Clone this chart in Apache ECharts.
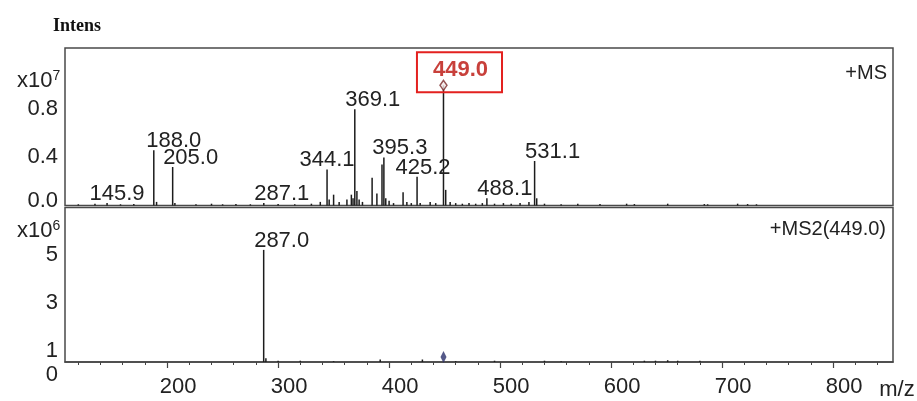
<!DOCTYPE html>
<html>
<head>
<meta charset="utf-8">
<script src="https://cdn.jsdelivr.net/npm/echarts@6.0.0/dist/echarts.min.js"></script>
<style>
html,body{margin:0;padding:0;background:#fff;}
#chart{width:917px;height:401px;}
</style>
</head>
<body>
<div id="chart"></div>
<script>
// ---- data (intensities in units of the axis multipliers: x10^7 top, x10^6 bottom) ----
const msLabeledMz  = [145.9, 188.0, 205.0, 287.1, 344.1, 369.1, 395.3, 425.2, 449.0, 488.1, 531.1];
const msLabeledInt = [0.02, 0.46, 0.32, 0.02, 0.30, 0.80, 0.40, 0.24, 1.00, 0.06, 0.37];
const msNoiseMz  = [120, 135, 158, 170, 190.5, 207, 226, 240, 250, 262, 275, 300, 315, 330, 338, 346, 350, 355, 362, 366, 367.5, 371, 373, 376, 384.7, 389, 393.6, 397, 400, 404, 412.6, 416, 420, 428, 437, 442, 451, 455, 460, 466, 472, 478, 484, 495, 503, 510, 518, 526, 533, 540, 555, 570, 590, 614, 621, 651, 684, 687, 714, 723, 731];
const msNoiseInt = [0.01, 0.015, 0.01, 0.012, 0.03, 0.02, 0.01, 0.015, 0.01, 0.012, 0.01, 0.012, 0.01, 0.015, 0.03, 0.05, 0.09, 0.03, 0.05, 0.09, 0.06, 0.12, 0.05, 0.03, 0.23, 0.10, 0.34, 0.06, 0.04, 0.02, 0.11, 0.03, 0.02, 0.02, 0.03, 0.02, 0.13, 0.03, 0.02, 0.015, 0.02, 0.015, 0.02, 0.015, 0.02, 0.015, 0.02, 0.03, 0.06, 0.015, 0.01, 0.015, 0.012, 0.015, 0.012, 0.015, 0.012, 0.01, 0.015, 0.012, 0.01];
const ms2LabeledMz  = [287.0];
const ms2LabeledInt = [5.2];
const ms2NoiseMz  = [289, 300, 320, 350, 392, 430, 460, 495, 540, 555, 630, 640, 651, 660, 680];
const ms2NoiseInt = [0.7, 0.6, 0.6, 0.58, 0.65, 0.65, 0.58, 0.6, 0.6, 0.58, 0.6, 0.6, 0.62, 0.6, 0.6];
const precursorMz = 449.0;
const xMajorTicks = [200, 300, 400, 500, 600, 700, 800];
const xMinorTicks = [120, 140, 160, 180, 220, 240, 260, 280, 320, 340, 360, 380, 420, 440, 460, 480, 520, 540, 560, 580, 620, 640, 660, 680, 720, 740, 760, 780, 820, 840];
const msYTicks  = [0, 0.4, 0.8];
const ms2YTicks = [1, 3, 5];

// ---- layout / style ----
const FONT = 'Liberation Sans, Arial, sans-serif';
const TXT = '#222';
const X_MIN = 108, X_MAX = 854;
const MS_YMAX = 1.31;
const MS2_YMIN = 0.546, MS2_YMAX = 6.96;
const labelDxMs = [10, 20, 18, 18, 0, 18, 16, 6, 16, 18, 18];
const labelDxMs2 = [18];

function peakData(mzs, ints, labeledMz, labeledInt, dxs, special) {
  const items = [];
  mzs.forEach((m, i) => items.push({ value: [m, ints[i]], label: { show: false } }));
  labeledMz.forEach((m, i) => {
    const lbl = {
      show: true, position: 'top', distance: -2, offset: [dxs[i], 0],
      formatter: m.toFixed(1), fontFamily: FONT, fontSize: 22, color: TXT
    };
    if (special && m === special) {
      Object.assign(lbl, {
        color: '#c8403b', fontWeight: 'bold', borderColor: '#e3211f', borderWidth: 2,
        padding: [7, 14, 11, 16], distance: -7
      });
    }
    items.push({ value: [m, labeledInt[i]], label: lbl });
  });
  return items;
}

const chart = echarts.init(document.getElementById('chart'), null, { renderer: 'canvas' });
const richSup = () => ({
  a: { fontFamily: FONT, fontSize: 22, fontWeight: 'normal', color: TXT, lineHeight: 24 },
  s: { fontFamily: FONT, fontSize: 14, fontWeight: 'normal', color: TXT, lineHeight: 24, verticalAlign: 'top' }
});

chart.setOption({
  backgroundColor: '#ffffff',
  animation: false,
  title: [
    { text: 'Intens', left: 48, top: 12, textStyle: { fontFamily: 'Liberation Serif, Times New Roman, serif', fontWeight: 'bold', fontSize: 18, color: '#111' } },
    { text: '{a|x10}{s|7}', left: 12, top: 64, textStyle: { fontWeight: 'normal', rich: richSup() } },
    { text: '{a|x10}{s|6}', left: 12, top: 214, textStyle: { fontWeight: 'normal', rich: richSup() } },
    { text: '+MS', right: 25, top: 58, textStyle: { fontFamily: FONT, fontWeight: 'normal', fontSize: 20, color: TXT } },
    { text: '+MS2(449.0)', right: 26, top: 214, textStyle: { fontFamily: FONT, fontWeight: 'normal', fontSize: 20, color: TXT } }
  ],
  grid: [
    { left: 65, right: 24, top: 48, height: 157.5, show: true, borderColor: '#4a4a4a', borderWidth: 1.5, backgroundColor: 'transparent' },
    { left: 65, right: 24, top: 207.5, height: 155.5, show: true, borderColor: '#4a4a4a', borderWidth: 1.5, backgroundColor: 'transparent' }
  ],
  xAxis: [
    { gridIndex: 0, type: 'value', min: X_MIN, max: X_MAX, axisLine: { show: false }, axisTick: { show: false }, axisLabel: { show: false }, splitLine: { show: false } },
    { gridIndex: 1, type: 'value', position: 'bottom', min: X_MIN, max: X_MAX,
      axisLine: { show: true, onZero: false, lineStyle: { color: '#444', width: 1.5 } },
      axisTick: { show: true, customValues: xMajorTicks, length: 6, lineStyle: { color: '#444', width: 1.2 } },
      axisLabel: { customValues: xMajorTicks, fontFamily: FONT, fontSize: 22, color: TXT, margin: 14, padding: [0, 0, 0, 22] },
      splitLine: { show: false },
      name: 'm/z', nameLocation: 'end', nameGap: 4,
      nameTextStyle: { fontFamily: FONT, fontSize: 22, color: TXT, align: 'center', verticalAlign: 'top', padding: [17, 0, 0, 0] }
    },
    { gridIndex: 1, type: 'value', position: 'bottom', min: X_MIN, max: X_MAX,
      axisLine: { show: false, onZero: false },
      axisTick: { show: true, customValues: xMinorTicks, length: 3, lineStyle: { color: '#444', width: 1 } },
      axisLabel: { show: false }, splitLine: { show: false }
    }
  ],
  yAxis: [
    { gridIndex: 0, type: 'value', min: 0, max: MS_YMAX,
      axisLine: { show: false }, axisTick: { show: false }, splitLine: { show: false },
      axisLabel: { customValues: msYTicks, margin: 7, fontFamily: FONT, fontSize: 22, color: TXT,
        formatter: v => v === 0 ? '{z|0.0}' : v.toFixed(1),
        rich: { z: { fontFamily: FONT, fontSize: 22, color: TXT, padding: [0, 0, 10, 0] } } }
    },
    { gridIndex: 1, type: 'value', min: MS2_YMIN, max: MS2_YMAX,
      axisLine: { show: false }, axisTick: { show: false }, splitLine: { show: false },
      axisLabel: { customValues: [MS2_YMIN].concat(ms2YTicks), margin: 7, fontFamily: FONT, fontSize: 22, color: TXT,
        formatter: v => v < 0.9 ? '{z|0}' : String(v),
        rich: { z: { fontFamily: FONT, fontSize: 22, color: TXT, padding: [26, 0, 0, 0] } } }
    }
  ],
  series: [
    { type: 'bar', xAxisIndex: 0, yAxisIndex: 0, barWidth: 1.5, clip: true,
      itemStyle: { color: '#1c1c1c' },
      data: peakData(msNoiseMz, msNoiseInt, msLabeledMz, msLabeledInt, labelDxMs, precursorMz) },
    { type: 'scatter', xAxisIndex: 0, yAxisIndex: 0, symbol: 'diamond', symbolSize: [7, 10], z: 5,
      itemStyle: { color: '#f4eaea', borderColor: '#7a2b2b', borderWidth: 1.5 },
      data: [[precursorMz, msLabeledInt[msLabeledMz.indexOf(precursorMz)]]] },
    { type: 'bar', xAxisIndex: 1, yAxisIndex: 1, barWidth: 1.5, clip: true,
      itemStyle: { color: '#1c1c1c' },
      data: peakData(ms2NoiseMz, ms2NoiseInt, ms2LabeledMz, ms2LabeledInt, labelDxMs2, null) },
    { type: 'scatter', xAxisIndex: 1, yAxisIndex: 1, symbol: 'diamond', symbolSize: [6, 12], z: 5,
      itemStyle: { color: '#2b2f6b' },
      data: [[precursorMz, 0.75]] }
  ]
});
</script>
</body>
</html>
